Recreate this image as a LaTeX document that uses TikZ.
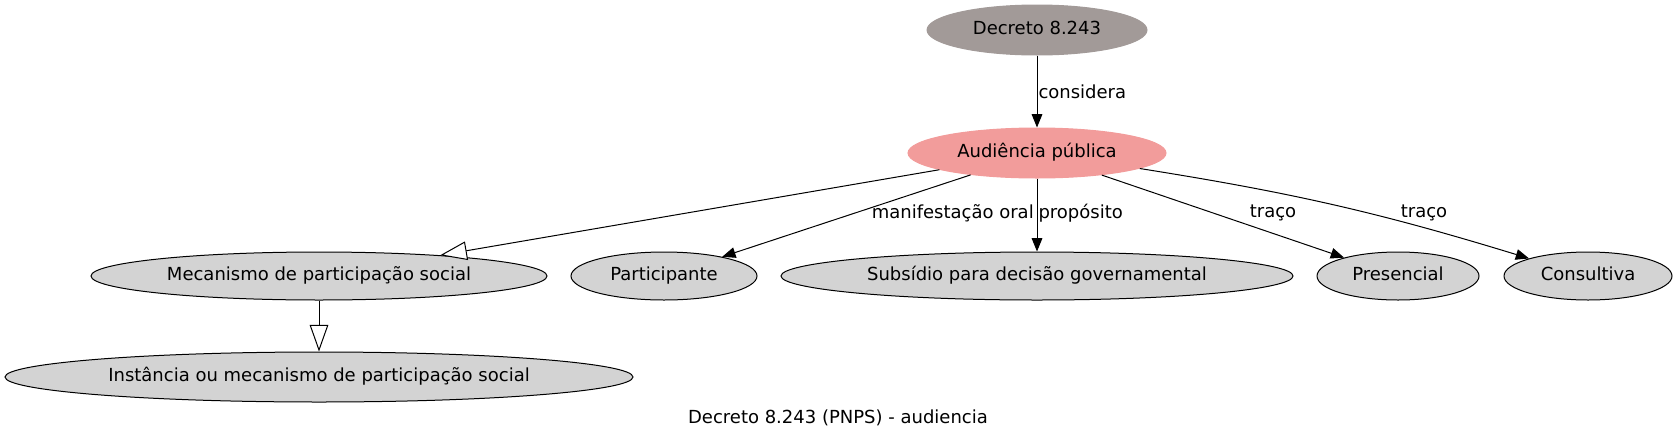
\documentclass[tikz,border=0pt]{standalone}
\usepackage{fontspec}
\setmainfont{DejaVu Sans}
\usetikzlibrary{shapes.geometric,arrows.meta}
\definecolor{decfill}{HTML}{A29A98}
\definecolor{audfill}{HTML}{F29C9B}
\definecolor{gnode}{HTML}{D3D3D3}
\tikzset{
  base/.style={ellipse, inner sep=0pt, text height=10pt, text depth=3pt, font=\fontsize{13.5}{16}\selectfont},
  topnode/.style={base, fill=decfill, draw=decfill, line width=0.75pt},
  hubnode/.style={base, fill=audfill, draw=audfill, line width=0.75pt},
  leaf/.style={base, fill=gnode, draw=black, line width=0.75pt},
  rel/.style={line width=0.75pt, -{Triangle[length=10pt,width=8pt]}},
  isa/.style={line width=0.75pt, -{Triangle[open,length=20pt,width=14pt,fill=white]}},
  lbl/.style={inner sep=0.75pt, font=\fontsize{13.5}{16}\selectfont},
}
\begin{document}
\begin{tikzpicture}[x=0.75pt,y=-0.75pt]
\useasboundingbox (0,0) rectangle (1677,443);
\node[topnode, minimum width=165pt, minimum height=37.5pt] (dec) at (1037,30) {Decreto 8.243};
\node[hubnode, minimum width=193.5pt, minimum height=37.5pt] (aud) at (1037,153) {Audiência pública};
\node[leaf, minimum width=342pt, minimum height=36pt] (mec) at (319,276) {Mecanismo de participação social};
\node[leaf, minimum width=139.5pt, minimum height=36pt] (par) at (664,276) {Participante};
\node[leaf, minimum width=384pt, minimum height=36pt] (sub) at (1037,276) {Subsídio para decisão governamental};
\node[leaf, minimum width=121.5pt, minimum height=36pt] (pre) at (1398,276) {Presencial};
\node[leaf, minimum width=126pt, minimum height=36pt] (con) at (1588,276) {Consultiva};
\node[leaf, minimum width=471pt, minimum height=37.5pt] (ins) at (319,377) {Instância ou mecanismo de participação social};

\draw[rel] (dec) -- node[lbl, anchor=west] {considera} (aud);
\draw[isa] (aud) -- (mec);
\draw[rel] (aud) -- (par);
\draw[rel] (aud) -- node[lbl, anchor=west, pos=0.48] {propósito} (sub);
\draw[rel] (aud) -- (pre);
\draw[rel] (aud) to[bend left=4] (con);
\draw[isa] (mec) -- (ins);

\node[lbl, anchor=east] (lman) at (1035,213) {manifestação oral};
\node[lbl] (ltr1) at (1273,213) {traço};
\node[lbl] (ltr2) at (1424,213) {traço};
\node[lbl] (cap) at (838,418) {Decreto 8.243 (PNPS) - audiencia};
\end{tikzpicture}
\end{document}
